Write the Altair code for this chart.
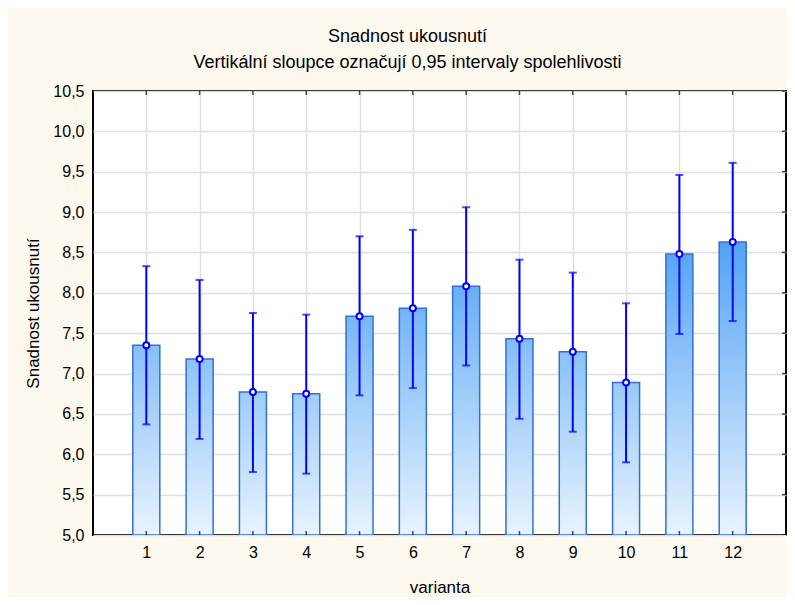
import altair as alt
import pandas as pd

variants = [1, 2, 3, 4, 5, 6, 7, 8, 9, 10, 11, 12]
means = [7.35, 7.18, 6.77, 6.75, 7.71, 7.81, 8.08, 7.43, 7.27, 6.89, 8.48, 8.63]
upper = [8.33, 8.16, 7.75, 7.73, 8.70, 8.78, 9.06, 8.41, 8.25, 7.87, 9.46, 9.61]
lower = [6.37, 6.19, 5.78, 5.76, 6.73, 6.82, 7.10, 6.44, 6.28, 5.90, 7.49, 7.65]
y_ticks = [5.0, 5.5, 6.0, 6.5, 7.0, 7.5, 8.0, 8.5, 9.0, 9.5, 10.0, 10.5]

df = pd.DataFrame({"variant": variants, "mean": means, "upper": upper, "lower": lower})
dticks = pd.DataFrame({"v": y_ticks})

FONT = "Liberation Sans"
BLUE = "#0000ff"
Y_MIN, Y_MAX = 5.0, 10.5


def shade(v):
    t = max(0.0, min(1.0, (v - 5.0) / (8.6 - 5.0)))
    c0 = (232, 243, 254)
    c1 = (82, 163, 245)
    c = [round(a + (b - a) * t) for a, b in zip(c0, c1)]
    return "#%02x%02x%02x" % tuple(c)


xscale = alt.Scale(domain=[0, 13], nice=False, zero=False, padding=0)
xenc = alt.X(
    "variant:Q",
    scale=xscale,
    axis=alt.Axis(
        values=variants, format="d", ticks=False, domain=False, grid=True,
        gridColor="#dedede", gridWidth=1.5, labelPadding=9, labelFontSize=16,
        labelColor="black", labelFont=FONT, title="varianta", titleFont=FONT,
        titleFontSize=17, titleFontWeight="normal", titleColor="black",
        titleY=52, titleBaseline="middle",
    ),
)
yscale = alt.Scale(domain=[Y_MIN, Y_MAX], nice=False, zero=False, padding=0)
yaxis = alt.Axis(
    values=y_ticks, labelExpr="replace(format(datum.value, '.1f'), '.', ',')",
    ticks=False, domain=False, grid=True, gridColor="#dedede", gridWidth=1.5,
    labelPadding=9, labelFontSize=16, labelColor="black", labelFont=FONT,
    title="Snadnost ukousnutí", titleFont=FONT, titleFontSize=17,
    titleFontWeight="normal", titleColor="black", titleX=-60, titleY=222,
    titleAngle=-90, titleAlign="center", titleBaseline="middle",
)

base = alt.Chart(df)
layers = []
for i, (v, m) in enumerate(zip(variants, means)):
    grad = alt.Gradient(
        gradient="linear",
        stops=[alt.GradientStop(color=shade(m), offset=0),
               alt.GradientStop(color=shade(Y_MIN), offset=1)],
        x1=0, x2=0, y1=0, y2=1,
    )
    layers.append(
        base.transform_filter(alt.datum.variant == v)
        .mark_bar(size=27, fill=grad, stroke="#3370d6", strokeWidth=1.5, clip=True)
        .encode(x=xenc, y=alt.Y("mean:Q", scale=yscale, axis=yaxis), y2=alt.datum(Y_MIN))
    )

rule = base.mark_rule(color=BLUE, strokeWidth=2).encode(
    x=xenc, y=alt.Y("lower:Q", scale=yscale, axis=yaxis), y2="upper:Q")
cap_hi = base.mark_tick(orient="horizontal", size=8, thickness=2, color=BLUE).encode(
    x="variant:Q", y="upper:Q")
cap_lo = base.mark_tick(orient="horizontal", size=8, thickness=2, color=BLUE).encode(
    x="variant:Q", y="lower:Q")
pts = base.mark_point(shape="circle", filled=True, fill="white", stroke=BLUE,
                      strokeWidth=2, size=36, opacity=1).encode(
    x="variant:Q", y="mean:Q")

tick_top = base.mark_tick(orient="vertical", size=8, thickness=1.5, color="black",
                          clip=True).encode(x="variant:Q", y=alt.datum(Y_MAX))
tick_bot = base.mark_tick(orient="vertical", size=8, thickness=1.5, color="black",
                          clip=True).encode(x="variant:Q", y=alt.datum(Y_MIN))
tick_right = alt.Chart(dticks).mark_tick(orient="horizontal", size=8, thickness=1.5,
                                         color="black", clip=True).encode(
    x=alt.datum(13), y=alt.Y("v:Q", scale=yscale))

chart = alt.layer(*layers, rule, cap_hi, cap_lo, pts, tick_top, tick_bot, tick_right).properties(
    width=693,
    height=444,
    autosize=alt.AutoSizeParams(type="none"),
    padding={"left": 85, "top": 83, "right": 1, "bottom": 62},
    background="#fdf9ef",
    title=alt.TitleParams(
        text="Snadnost ukousnutí",
        subtitle="Vertikální sloupce označují 0,95 intervaly spolehlivosti",
        anchor="middle", frame="group", dx=-32, offset=11,
        font=FONT, fontSize=18, fontWeight="normal", color="black",
        subtitleFont=FONT, subtitleFontSize=18, subtitleColor="black",
        subtitlePadding=8,
    ),
).configure_view(stroke="black", strokeWidth=2, fill="white")

chart.save("out.html", embed_options={"renderer": "svg", "actions": False})
